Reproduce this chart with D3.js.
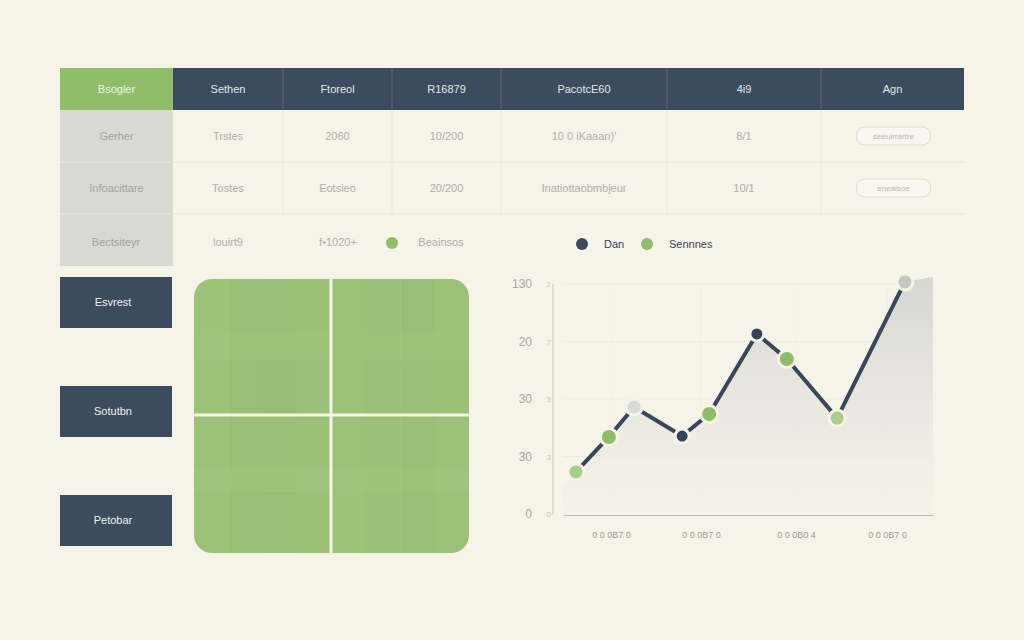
<!DOCTYPE html>
<html><head><meta charset="utf-8">
<script src="https://cdn.jsdelivr.net/npm/d3@7"></script>
<style>html,body{margin:0;padding:0;background:#f6f3e9;}svg{display:block;}</style>
</head><body>
<svg id="c" width="1024" height="640"></svg>
<script>
// ---------- DATA ----------
const headers = ["Bsogler", "Sethen", "Ftoreol", "R16879", "PacotcE60", "4i9", "Agn"];
const row1 = ["Gerher", "Trstes", "2060", "10/200", "10 0 iKaaan)'", "8/1", "seeuirrartre"];
const row2 = ["Infoacittare", "Tostes", "Eotsieo", "20/200", "Inatiottaobmbjeur", "10/1", "eneaisoe"];
const row3 = ["Bectsiteyr", "louirt9", "f\u20221020+", "", "Beainsos", "", ""];
const navLabels = ["Esvrest", "Sotutbn", "Petobar"];
const legendLabels = ["Dan", "Sennnes"];
const yTickValues = [0, 25, 50, 75, 100];
const yTickLabels = ["0", "30", "30", "20", "130"];
const yMinorLabels = ["0", "3", "3", "7", "2"];
const xTickValues = [13, 37.3, 63, 87.6];
const xTickLabels = ["0 0 0B7 0", "0 0 0B7 0", "0 0 0B0 4", "0 0 0B7 0"];
const pointX = [3.5, 12.4, 19.2, 32.2, 39.5, 52.4, 60.5, 74.1, 92.4];
const pointY = [18.3, 33.5, 46.5, 33.9, 43.5, 78.3, 67.4, 41.7, 100.9];
const pointKind = ["lightgreen", "green", "gray", "dark", "green", "dark", "green", "lightgreen", "midgray"];
const areaStart = [0, 12.6];
const areaEnd = [100, 103];
// heatmap tile shading
const tileValues = [
  [0.2, 0.6, 0.7, 0.4, 0.3, 0.5, 0.7, 0.3],
  [0.1, 0.3, 0.3, 0.2, 0.2, 0.3, 0.3, 0.2],
  [0.3, 0.7, 0.8, 0.5, 0.3, 0.6, 0.6, 0.4],
  [0.3, 0.6, 0.6, 0.4, 0.3, 0.5, 0.6, 0.3],
  [0.1, 0.2, 0.2, 0.1, 0.1, 0.2, 0.3, 0.1],
  [0.3, 0.6, 0.7, 0.4, 0.2, 0.5, 0.6, 0.3]
];

// ---------- DRAW ----------
const svg = d3.select("#c");
const FONT = "'Liberation Sans', Arial, sans-serif";
const DARK = "#3d4b5e", GREEN = "#8fbd69";

// Table
const colEdges = [60, 173, 283, 392, 501, 667, 821, 964];
const rowEdges = [68, 110, 162, 214, 266];
const tbl = svg.append("g");
const cols = d3.range(7);
tbl.append("rect").attr("x", colEdges[0]).attr("y", rowEdges[1]).attr("width", colEdges[1]-colEdges[0])
  .attr("height", rowEdges[4]-rowEdges[1]).attr("fill", "#d8d8d5");
tbl.selectAll("rect.h").data(cols).join("rect").attr("class","h")
  .attr("x", i => colEdges[i]).attr("y", rowEdges[0]).attr("width", i => colEdges[i+1]-colEdges[i])
  .attr("height", rowEdges[1]-rowEdges[0]).attr("fill", i => i === 0 ? GREEN : DARK);
tbl.selectAll("line.hs").data(cols.slice(2)).join("line").attr("class","hs")
  .attr("x1", i => colEdges[i]).attr("x2", i => colEdges[i]).attr("y1", rowEdges[0]).attr("y2", rowEdges[1])
  .attr("stroke", "#5b6879").attr("stroke-width", 1);
tbl.selectAll("text.h").data(headers).join("text").attr("class","h")
  .attr("x", (d,i) => (colEdges[i]+colEdges[i+1])/2).attr("y", 89).attr("dy", "0.35em")
  .attr("text-anchor","middle").attr("font-family", FONT).attr("font-size", 11)
  .attr("fill", (d,i) => i === 0 ? "#eef3e6" : "#e3e7eb").text(d => d);
tbl.selectAll("line.rl").data([rowEdges[2], rowEdges[3]]).join("line").attr("class","rl")
  .attr("x1", colEdges[0]).attr("x2", colEdges[7]).attr("y1", d => d).attr("y2", d => d)
  .attr("stroke", "#e9e6dc").attr("stroke-width", 1);
tbl.selectAll("line.cl").data(cols.slice(2)).join("line").attr("class","cl")
  .attr("x1", i => colEdges[i]).attr("x2", i => colEdges[i]).attr("y1", rowEdges[1]).attr("y2", rowEdges[3])
  .attr("stroke", "#ece9df").attr("stroke-width", 1);
const bodyRows = [row1, row2];
bodyRows.forEach((r, ri) => {
  const cy = (rowEdges[ri+1] + rowEdges[ri+2]) / 2;
  r.forEach((t, ci) => {
    const cx = (colEdges[ci] + colEdges[ci+1]) / 2;
    if (ci === 6) {
      tbl.append("rect").attr("x", cx - 36).attr("y", cy - 9).attr("width", 74).attr("height", 18)
        .attr("rx", 8).attr("fill", "#f8f6ee").attr("stroke", "#dedbd2");
      tbl.append("text").attr("x", cx + 1).attr("y", cy).attr("dy","0.35em").attr("text-anchor","middle")
        .attr("font-family", FONT).attr("font-size", 8).attr("fill", "#b8b8b2").text(t);
    } else {
      tbl.append("text").attr("x", cx).attr("y", cy).attr("dy","0.35em").attr("text-anchor","middle")
        .attr("font-family", FONT).attr("font-size", 11).attr("fill", ci === 0 ? "#a3a3a0" : "#b0b0aa").text(t);
    }
  });
});
const r3y = 242;
tbl.append("text").attr("x", 116).attr("y", r3y).attr("dy","0.35em").attr("text-anchor","middle")
  .attr("font-family", FONT).attr("font-size", 11).attr("fill", "#a3a3a0").text(row3[0]);
tbl.append("text").attr("x", 228).attr("y", r3y).attr("dy","0.35em").attr("text-anchor","middle")
  .attr("font-family", FONT).attr("font-size", 11).attr("fill", "#b0b0aa").text(row3[1]);
tbl.append("text").attr("x", 338).attr("y", r3y).attr("dy","0.35em").attr("text-anchor","middle")
  .attr("font-family", FONT).attr("font-size", 11).attr("fill", "#b0b0aa").text(row3[2]);
tbl.append("circle").attr("cx", 392).attr("cy", 243).attr("r", 6).attr("fill", GREEN);
tbl.append("text").attr("x", 441).attr("y", r3y).attr("dy","0.35em").attr("text-anchor","middle")
  .attr("font-family", FONT).attr("font-size", 11).attr("fill", "#b0b0aa").text(row3[4]);

// Legend
const legend = svg.append("g");
[[582, DARK], [647, GREEN]].forEach(([lx, c], i) => {
  legend.append("circle").attr("cx", lx).attr("cy", 244).attr("r", 6).attr("fill", c);
  legend.append("text").attr("x", lx + 22).attr("y", 244).attr("dy","0.35em")
    .attr("font-family", FONT).attr("font-size", 11).attr("fill", "#3b4656").text(legendLabels[i]);
});

// Nav buttons
const navY = d3.scalePoint().domain(navLabels).range([302, 520]);
svg.selectAll("g.nav").data(navLabels).join("g").attr("class","nav").each(function(d) {
  const g = d3.select(this);
  g.append("rect").attr("x", 60).attr("y", navY(d) - 25).attr("width", 112).attr("height", 51).attr("fill", DARK);
  g.append("text").attr("x", 113).attr("y", navY(d)).attr("dy","0.35em").attr("text-anchor","middle")
    .attr("font-family", FONT).attr("font-size", 11).attr("fill", "#eef0f2").text(d);
});

// Green tiled square
const sq = {x: 194, y: 279, w: 275, h: 274};
const defs = svg.append("defs");
defs.append("clipPath").attr("id","sqclip").append("rect")
  .attr("x", sq.x).attr("y", sq.y).attr("width", sq.w).attr("height", sq.h).attr("rx", 18);
const tileColor = d3.scaleLinear().domain([0, 1]).range(["#9ec57b", "#97bb72"]);
const tx = d3.scaleBand().domain(d3.range(8)).range([sq.x, sq.x + sq.w]);
const rowBreaks = [279, 332, 360, 415, 467, 492, 553];
const tg = svg.append("g").attr("clip-path", "url(#sqclip)");
tileValues.forEach((row, ri) => {
  row.forEach((v, ci) => {
    tg.append("rect").attr("x", tx(ci)).attr("y", rowBreaks[ri]).attr("width", tx.bandwidth() + 0.5)
      .attr("height", rowBreaks[ri+1] - rowBreaks[ri] + 0.5).attr("fill", tileColor(v));
  });
});
tg.append("line").attr("x1", 331).attr("x2", 331).attr("y1", sq.y).attr("y2", sq.y + sq.h)
  .attr("stroke", "#f6f3e9").attr("stroke-width", 3);
tg.append("line").attr("x1", sq.x).attr("x2", sq.x + sq.w).attr("y1", 415).attr("y2", 415)
  .attr("stroke", "#f6f3e9").attr("stroke-width", 3);

// Line chart
const x = d3.scaleLinear().domain([0, 100]).range([563, 933]);
const y = d3.scaleLinear().domain([0, 100]).range([514, 284]);
const ch = svg.append("g");
ch.selectAll("line.g").data(yTickValues.slice(1)).join("line").attr("class","g")
  .attr("x1", x(0)).attr("x2", x(100)).attr("y1", d => y(d)).attr("y2", d => y(d))
  .attr("stroke", "#eeebe1").attr("stroke-width", 1);
ch.selectAll("line.gv").data(xTickValues).join("line").attr("class","gv")
  .attr("x1", d => x(d)).attr("x2", d => x(d)).attr("y1", y(100)).attr("y2", y(0))
  .attr("stroke", "#f1eee5").attr("stroke-width", 1);
const grad = defs.append("linearGradient").attr("id","ag").attr("x1",0).attr("y1",0).attr("x2",0).attr("y2",1);
grad.append("stop").attr("offset","0%").attr("stop-color","#d6d6d2");
grad.append("stop").attr("offset","100%").attr("stop-color","#f3f1e8").attr("stop-opacity", 0.6);
const pts = pointX.map((px, i) => ({x: px, y: pointY[i], k: pointKind[i]}));
const areaPts = [{x: areaStart[0], y: areaStart[1]}, ...pts, {x: areaEnd[0], y: areaEnd[1]}];
ch.append("path").datum(areaPts)
  .attr("d", d3.area().x(d => x(d.x)).y0(y(0)).y1(d => y(d.y)))
  .attr("fill", "url(#ag)");
const yAxisG = ch.append("g").attr("transform", `translate(553,0)`)
  .call(d3.axisLeft(y).tickValues(yTickValues).tickSize(0).tickFormat((d, i) => yMinorLabels[i]));
yAxisG.select(".domain").attr("stroke", "#c9c8c1").attr("d", `M0,${y(100)}V${y(0)+1}`);
yAxisG.selectAll("text").attr("x", -2).attr("font-family", FONT).attr("font-size", 8).attr("fill", "#c4c3bc");
const yAxisG2 = ch.append("g").attr("transform", `translate(532,0)`)
  .call(d3.axisLeft(y).tickValues(yTickValues).tickSize(0).tickFormat((d, i) => yTickLabels[i]));
yAxisG2.select(".domain").remove();
yAxisG2.selectAll("text").attr("x", 0).attr("font-family", FONT).attr("font-size", 12).attr("fill", "#a9a9a3");
const xAxisG = ch.append("g").attr("transform", `translate(0,${y(0) + 1})`)
  .call(d3.axisBottom(x).tickValues(xTickValues).tickSize(0).tickFormat((d, i) => xTickLabels[i]));
xAxisG.select(".domain").attr("stroke", "#bdbcb5").attr("stroke-width", 1.2);
xAxisG.selectAll("text").attr("y", 17).attr("font-family", FONT).attr("font-size", 9).attr("fill", "#9d9d97");
ch.append("path").datum(pts)
  .attr("d", d3.line().x(d => x(d.x)).y(d => y(d.y)))
  .attr("fill", "none").attr("stroke", "#39475a").attr("stroke-width", 4).attr("stroke-linejoin","round");
const kindFill = {lightgreen: "#a8cf88", green: "#8fbd69", gray: "#dadad6", midgray: "#c5c5c1", dark: "#34435a"};
const kindR = {lightgreen: 8, green: 8.5, gray: 8, midgray: 8, dark: 7};
ch.selectAll("circle.p").data(pts).join("circle").attr("class","p")
  .attr("cx", d => x(d.x)).attr("cy", d => y(d.y)).attr("r", d => kindR[d.k])
  .attr("fill", d => kindFill[d.k]).attr("stroke", "#f6f3e9").attr("stroke-width", 3);
</script>
</body></html>
